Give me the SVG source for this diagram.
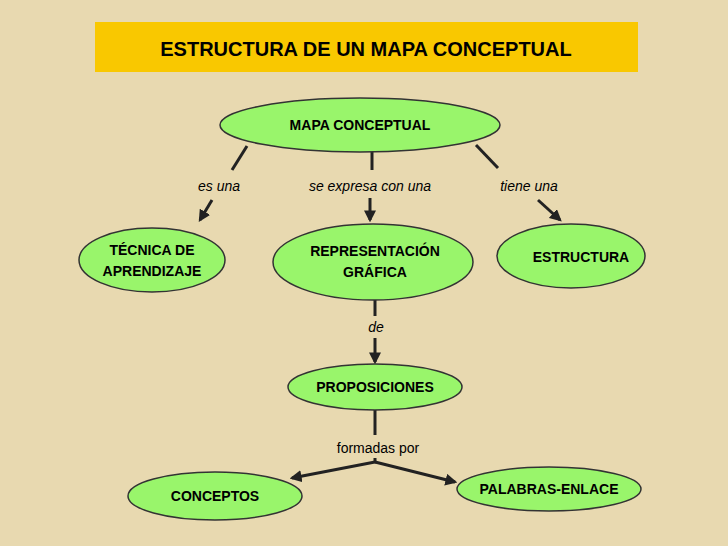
<svg xmlns="http://www.w3.org/2000/svg" width="728" height="546" viewBox="0 0 728 546">
<defs>
<marker id="ah" viewBox="0 0 10 10" refX="8" refY="5" markerWidth="4" markerHeight="4" orient="auto"><path d="M0,0L10,5L0,10z" fill="#222"/></marker>
</defs>
<style>
.n{fill:#99f56b;stroke:#333;stroke-width:1.5}
.t{font-family:"Liberation Sans",Arial,sans-serif;font-weight:bold;font-size:14px;fill:#000;text-anchor:middle}
.l{font-family:"Liberation Sans",Arial,sans-serif;font-style:italic;font-size:14px;fill:#000;text-anchor:middle}
.c{stroke:#222;stroke-width:3;fill:none}
</style>
<rect width="728" height="546" fill="#e8d9b0"/>
<g id="title"><rect x="95" y="22" width="543" height="50" fill="#f9c800"/><text x="366" y="56" class="t" style="font-size:20px">ESTRUCTURA DE UN MAPA CONCEPTUAL</text></g>
<g id="connectors">
<path class="c" d="M247,146L232,170"/><path class="c" d="M212,200L200,220" marker-end="url(#ah)"/>
<path class="c" d="M372,152L372,170"/><path class="c" d="M370,198L370,220" marker-end="url(#ah)"/>
<path class="c" d="M476,145L498,168"/><path class="c" d="M538,200L560,220" marker-end="url(#ah)"/>
<path class="c" d="M375,300L375,316"/><path class="c" d="M375,338L375,362" marker-end="url(#ah)"/>
<path class="c" d="M375,410L375,435"/><path class="c" d="M375,458L375,462L292,478" marker-end="url(#ah)"/><path class="c" d="M375,462L455,482" marker-end="url(#ah)"/>
<text x="219" y="191" class="l">es una</text>
<text x="370" y="191" class="l">se expresa con una</text>
<text x="529" y="191" class="l">tiene una</text>
<text x="376" y="332" class="l">de</text>
<text x="378" y="453" class="l" style="font-style:normal">formadas por</text>
</g>
<g id="mapa"><ellipse class="n" cx="360" cy="125" rx="140" ry="27"/><text x="360" y="130" class="t">MAPA CONCEPTUAL</text></g>
<g id="tecnica"><ellipse class="n" cx="152" cy="260" rx="73" ry="32"/><text x="152" y="255" class="t">TÉCNICA DE</text><text x="152" y="276" class="t">APRENDIZAJE</text></g>
<g id="repr"><ellipse class="n" cx="373" cy="262" rx="100" ry="38"/><text x="375" y="256" class="t">REPRESENTACIÓN</text><text x="375" y="277" class="t">GRÁFICA</text></g>
<g id="estructura"><ellipse class="n" cx="571" cy="256" rx="74" ry="32"/><text x="581" y="262" class="t">ESTRUCTURA</text></g>
<g id="proposiciones"><ellipse class="n" cx="375" cy="387" rx="87" ry="23"/><text x="375" y="392" class="t">PROPOSICIONES</text></g>
<g id="conceptos"><ellipse class="n" cx="215" cy="496" rx="87" ry="24"/><text x="215" y="501" class="t">CONCEPTOS</text></g>
<g id="palabras"><ellipse class="n" cx="549" cy="489" rx="92" ry="22"/><text x="549" y="494" class="t">PALABRAS-ENLACE</text></g>
</svg>
